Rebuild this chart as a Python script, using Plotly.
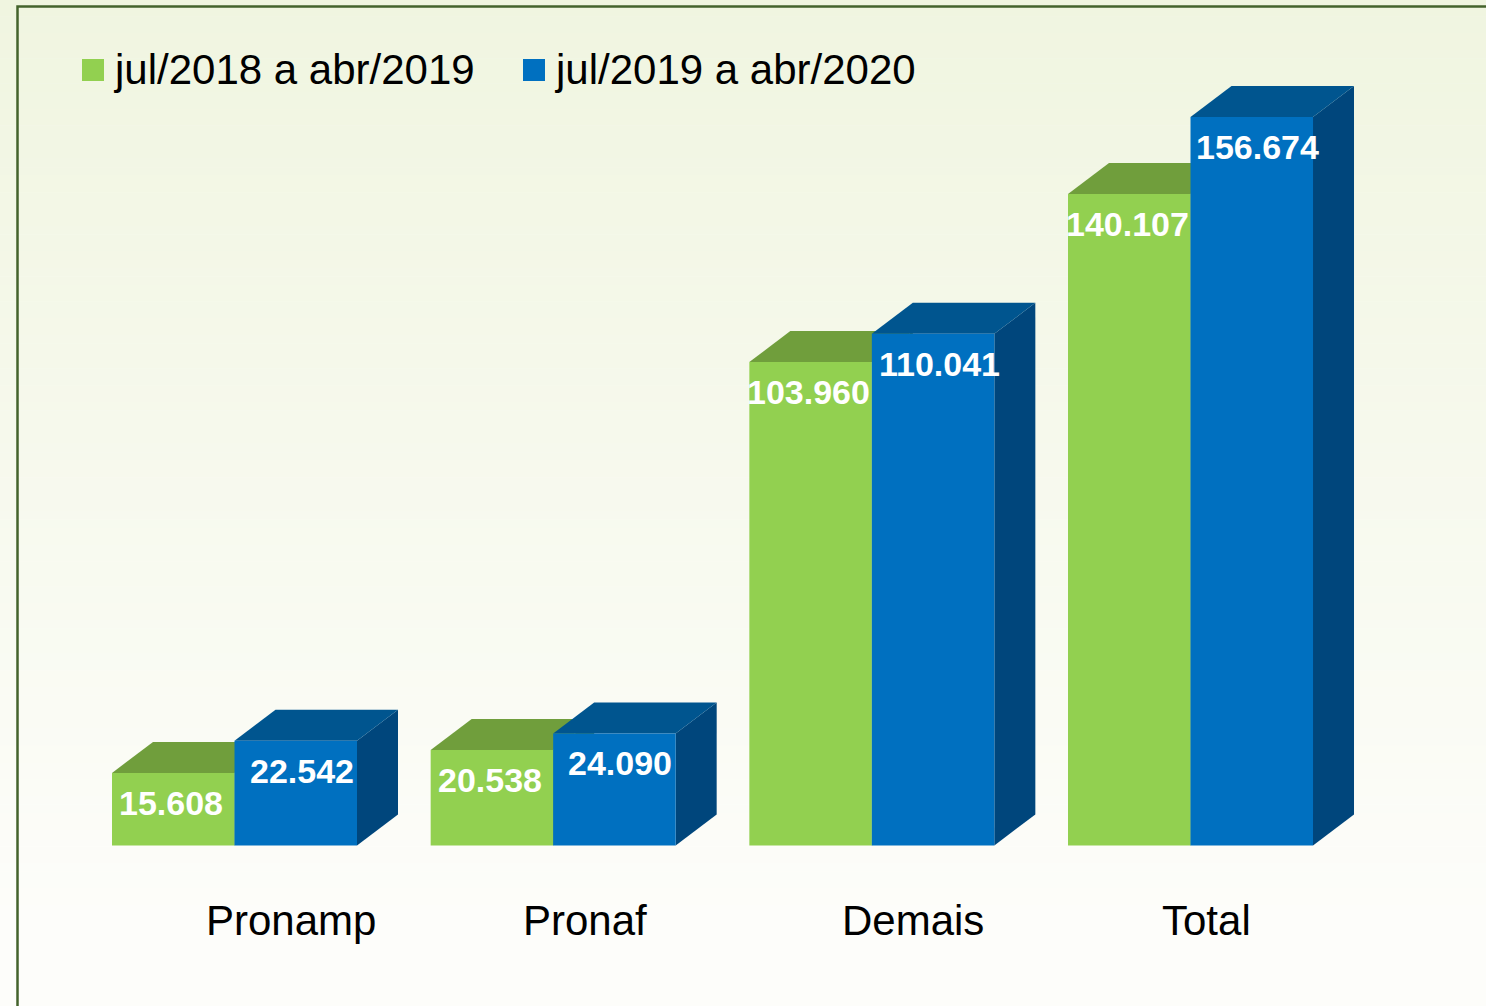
import plotly.graph_objects as go

# ---- data ----
categories = ["Pronamp", "Pronaf", "Demais", "Total"]
series_names = ["jul/2018 a abr/2019", "jul/2019 a abr/2020"]
values_2018_19 = [15.608, 20.538, 103.960, 140.107]
values_2019_20 = [22.542, 24.090, 110.041, 156.674]
value_labels_2018_19 = ["15.608", "20.538", "103.960", "140.107"]
value_labels_2019_20 = ["22.542", "24.090", "110.041", "156.674"]

# ---- style ----
W, H = 1486, 1006
px_per_cat = 318.67
px_per_unit = 4.65
x_zero_px = 234.5
y_zero_px = 845.5
bar_w = 122.5 / px_per_cat
dx = 41 / px_per_cat
dy = 31 / px_per_unit

colors = {
    0: dict(front="#92d050", top="#709e3c", side="#5f8a30"),
    1: dict(front="#0070c0", top="#00558f", side="#00467c"),
}
label_xshift = [56, 32, 41, 15.5]
value_xshift = {0: -2, 1: 6}
FONT = "Liberation Sans, Arial, sans-serif"

fig = go.Figure()

def poly(xs, ys, color):
    fig.add_trace(go.Scatter(x=xs + [xs[0]], y=ys + [ys[0]], fill="toself",
                             fillcolor=color, mode="lines",
                             line=dict(width=0, color=color),
                             hoverinfo="skip", showlegend=False))

annotations = []
for i, cat in enumerate(categories):
    for s, (vals, labs) in enumerate([(values_2018_19, value_labels_2018_19),
                                      (values_2019_20, value_labels_2019_20)]):
        h = vals[i]
        x0 = i + (-bar_w if s == 0 else 0)
        x1 = x0 + bar_w
        c = colors[s]
        # side face
        poly([x1, x1 + dx, x1 + dx, x1], [0, dy, h + dy, h], c["side"])
        # top face
        poly([x0, x0 + dx, x1 + dx, x1], [h, h + dy, h + dy, h], c["top"])
        # front face
        poly([x0, x1, x1, x0], [0, 0, h, h], c["front"])
        annotations.append(dict(x=(x0 + x1) / 2, y=h, xref="x", yref="y",
                                text="<b>" + labs[i] + "</b>", showarrow=False,
                                xanchor="center", yanchor="middle",
                                yshift=-30, xshift=value_xshift[s],
                                font=dict(family=FONT, size=34, color="white")))
    annotations.append(dict(x=i, y=0, xref="x", yref="y", text=cat,
                            showarrow=False, xanchor="center", yanchor="middle",
                            yshift=-75, xshift=label_xshift[i],
                            font=dict(family=FONT, size=42, color="black")))

# legend (manual)
leg_sq_x = [82, 523]
leg_colors = [colors[0]["front"], colors[1]["front"]]
shapes = []

# background gradient
n = 120
top_c = (240, 245, 224)
bot_c = (253, 253, 250)
grad_end = 920
for k in range(n):
    y0p = H * k / n
    y1p = H * (k + 1) / n
    t = min(1.0, ((y0p + y1p) / 2) / grad_end)
    col = tuple(round(top_c[j] + (bot_c[j] - top_c[j]) * t) for j in range(3))
    shapes.append(dict(type="rect", xref="paper", yref="paper", x0=0, x1=1,
                       y0=1 - y1p / H, y1=1 - y0p / H + 0.0005, layer="below",
                       line=dict(width=0), fillcolor="rgb(%d,%d,%d)" % col))

# border
shapes.append(dict(type="path", xref="paper", yref="paper",
                   path="M %f,%f L %f,%f L %f,%f" % (17.5 / W, 0, 17.5 / W, 1 - 6.5 / H, 1, 1 - 6.5 / H),
                   line=dict(color="#44632c", width=2.5), layer="above"))

for s in range(2):
    x = leg_sq_x[s]
    shapes.append(dict(type="rect", xref="paper", yref="paper",
                       x0=x / W, x1=(x + 22) / W, y0=1 - 81 / H, y1=1 - 59 / H,
                       fillcolor=leg_colors[s], line=dict(width=0)))
    annotations.append(dict(x=(x + 29) / W, y=1 - 69 / H, xref="paper", yref="paper",
                            text=series_names[s], showarrow=False,
                            xanchor="left", yanchor="middle",
                            font=dict(family=FONT, size=42, color="black")))

x_min = -x_zero_px / px_per_cat
x_max = x_min + W / px_per_cat
y_max = y_zero_px / px_per_unit
y_min = y_max - H / px_per_unit

fig.update_layout(
    width=W, height=H, margin=dict(l=0, r=0, t=0, b=0),
    paper_bgcolor="white", plot_bgcolor="rgba(0,0,0,0)",
    xaxis=dict(range=[x_min, x_max], visible=False, fixedrange=True),
    yaxis=dict(range=[y_min, y_max], visible=False, fixedrange=True),
    shapes=shapes, annotations=annotations, showlegend=False,
)
fig.write_html("out.html", config={"displayModeBar": False},
               post_script="document.body.style.margin='0';document.body.style.overflow='hidden';")
